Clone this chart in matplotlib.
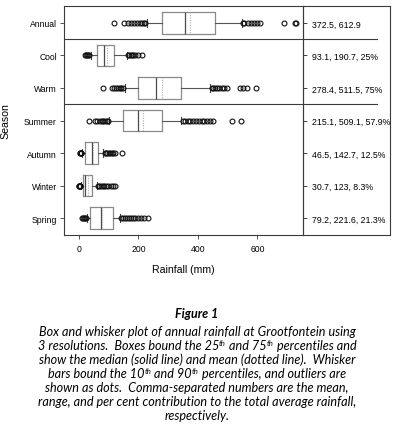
import matplotlib
matplotlib.use("Agg")
import matplotlib.pyplot as plt

plt.rcParams['font.family'] = ['Liberation Sans', 'DejaVu Sans']

# ---------------- data ----------------
seasons = ["Annual", "Cool", "Warm", "Summer", "Autumn", "Winter", "Spring"]
whislo = [228, 40, 155, 102, 10, 8, 26]
q1 = [280, 62, 199, 149, 22, 13, 39]
med = [358, 84, 258, 200, 43, 21, 73]
mean = [372.5, 93.1, 278.4, 215.1, 46.5, 30.7, 79.2]
q3 = [457, 119, 343, 280, 65, 43, 115]
whishi = [547, 160, 440, 342, 82, 60, 138]
fliers = [
    [118, 151, 165, 175, 185, 195, 205, 212, 218, 222,
     551, 556, 568, 578, 588, 598, 608, 689, 726, 730],
    [22, 25, 28, 31, 34, 165, 170, 174, 178, 183, 190, 200, 211],
    [82, 112, 118, 124, 130, 137, 143, 149,
     447, 452, 458, 465, 472, 480, 488, 496, 540, 552, 565, 594],
    [35, 55, 62, 70, 76, 82, 88, 94, 99,
     350, 358, 366, 375, 384, 393, 402, 412, 422, 432, 442, 452, 513, 544],
    [3, 5, 6, 7, 8, 88, 92, 96, 100, 105, 110, 116, 122, 146],
    [0, 1, 2, 3, 4, 5, 64, 69, 74, 80, 86, 92, 99, 107, 115, 123],
    [9, 13, 17, 20, 23, 142, 148, 154, 160, 167, 174, 182, 190, 198, 208, 220, 231],
]
right_labels = ["372.5, 612.9", "93.1, 190.7, 25%", "278.4, 511.5, 75%",
                "215.1, 509.1, 57.9%", "46.5, 142.7, 12.5%", "30.7, 123, 8.3%",
                "79.2, 221.6, 21.3%"]
separators_after = [1, 3]  # separator line after Annual and after Warm
xticks = [0, 200, 400, 600]
caption_title = "Figure 1"
# each caption line: list of (text, is_superscript)
caption_lines = [
    [("Box and whisker plot of annual rainfall at Grootfontein using", False)],
    [("3 resolutions.  Boxes bound the 25", False), ("th", True),
     (" and 75", False), ("th", True), (" percentiles and", False)],
    [("show the median (solid line) and mean (dotted line).  Whisker", False)],
    [("bars bound the 10", False), ("th", True), (" and 90", False),
     ("th", True), (" percentiles, and outliers are", False)],
    [("shown as dots.  Comma-separated numbers are the mean,", False)],
    [("range, and per cent contribution to the total average rainfall,", False)],
    [("respectively.", False)],
]

# ---------------- figure ----------------
W, H = 396, 435
fig = plt.figure(figsize=(W / 100, H / 100), dpi=100)

def fx(px):
    return px / W

def fy(px):
    return 1 - px / H

L, R, T, B = 64, 303, 7, 236
RR = 390
ax = fig.add_axes([fx(L), fy(B), fx(R - L), (B - T) / H])
axp = fig.add_axes([fx(R), fy(B), fx(RR - R), (B - T) / H])

positions = list(range(1, len(seasons) + 1))
stats = []
for i, s in enumerate(seasons):
    stats.append(dict(label=s, whislo=whislo[i], q1=q1[i], med=med[i],
                      mean=mean[i], q3=q3[i], whishi=whishi[i],
                      fliers=fliers[i]))

spine_c = "#3a3a3a"
ax.bxp(stats, positions=positions, vert=False, widths=0.65,
       capwidths=0.22, showmeans=True, meanline=True, showfliers=True,
       boxprops=dict(color="#8a8a8a", linewidth=0.9),
       medianprops=dict(color="#4a4a4a", linewidth=0.9),
       meanprops=dict(color="#b0b0b0", linewidth=0.8, linestyle=(0, (1, 1.2))),
       whiskerprops=dict(color="#555555", linewidth=0.8),
       capprops=dict(color="#444444", linewidth=0.8),
       flierprops=dict(marker="o", markerfacecolor="none",
                       markeredgecolor="#111111", markersize=3.5,
                       markeredgewidth=0.8))

ax.set_xlim(-50, 753)
ax.set_ylim(len(seasons) + 0.523, 0.477)
ax.set_xticks(xticks)
ax.set_xticklabels([str(t) for t in xticks])
ax.set_yticks(positions)
ax.set_yticklabels(seasons)
ax.tick_params(axis="both", labelsize=6.2, length=3, width=0.6,
               color=spine_c, direction="out")
ax.tick_params(axis="x", pad=3.2)
ax.tick_params(axis="y", pad=2.2)
ax.tick_params(axis="y", right=True, labelright=False)
for sp in ax.spines.values():
    sp.set_color(spine_c)
    sp.set_linewidth(0.8)

ax.set_xlabel("Rainfall (mm)", fontsize=7.6)
ax.set_ylabel("Season", fontsize=7.6)
ax.xaxis.set_label_coords(0.5, -0.125)
ax.yaxis.set_label_coords(-0.225, 0.5)

# separators from left spine into right panel
for s in separators_after:
    ax.plot([0, (377 - L) / (R - L)], [s + 0.5, s + 0.5],
            transform=ax.get_yaxis_transform(), color=spine_c,
            linewidth=0.8, clip_on=False)

# right panel with labels
axp.set_ylim(ax.get_ylim())
axp.set_xlim(0, 1)
axp.set_xticks([])
axp.set_yticks(positions)
axp.set_yticklabels(right_labels)
axp.tick_params(axis="y", direction="in", length=2.5, width=0.6,
                color=spine_c, labelsize=6.3, pad=-6.2)
for lbl in axp.get_yticklabels():
    lbl.set_horizontalalignment("left")
for sp in axp.spines.values():
    sp.set_color(spine_c)
    sp.set_linewidth(0.8)
axp.patch.set_alpha(0)

# caption
cap_font = ["Lato", "DejaVu Sans"]
body_size = 9.1
sup_size = 5.6
cx = 197
fig.text(fx(cx), fy(314 + 3.8), caption_title, ha="center", va="baseline",
         fontsize=9.0, fontstyle="italic", fontweight="bold", family=cap_font)

renderer = fig.canvas.get_renderer()
line_centers = [331.7, 346, 360, 374, 388.3, 402.7, 416.7]
for yc, segs in zip(line_centers, caption_lines):
    base = yc + 3.8
    # measure segment widths
    texts = []
    widths = []
    for txt, sup in segs:
        t = fig.text(0, 0, txt, fontsize=sup_size if sup else body_size,
                     fontstyle="italic", family=cap_font, ha="left",
                     va="baseline")
        bb = t.get_window_extent(renderer)
        texts.append((t, sup))
        # use advance width including trailing spaces
        w, _, _ = renderer.get_text_width_height_descent(
            txt, t.get_fontproperties(), ismath=False)
        widths.append(w)
    total = sum(widths)
    x = cx - total / 2
    for (t, sup), w in zip(texts, widths):
        y = base - (4.0 if sup else 0)
        t.set_position((fx(x), fy(y)))
        x += w

fig.savefig("out.png", dpi=100)
